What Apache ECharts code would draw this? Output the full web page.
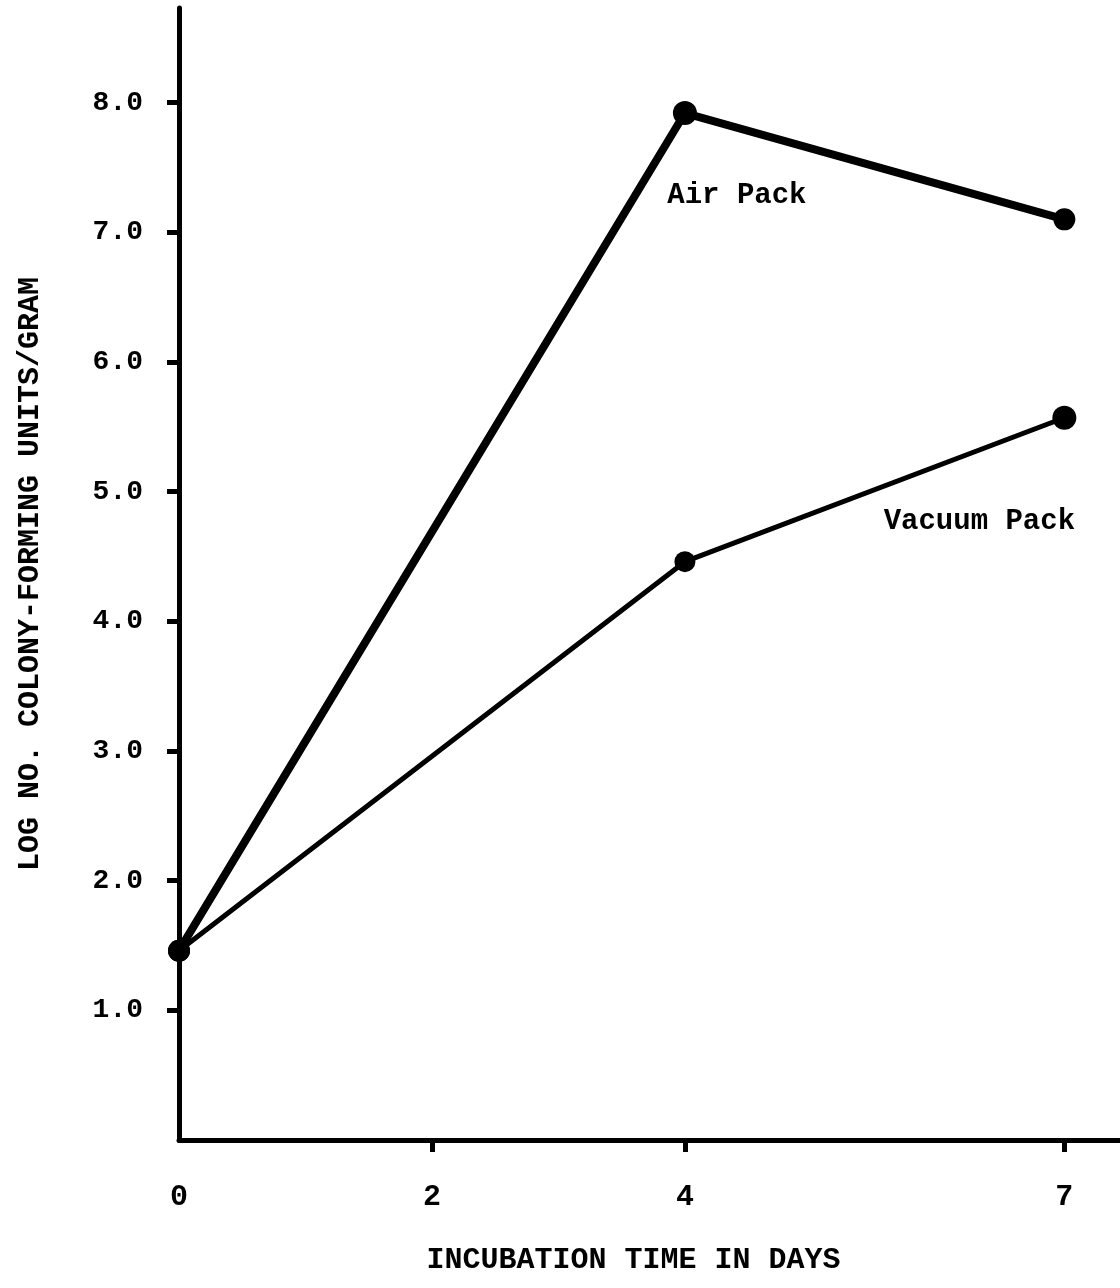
<!DOCTYPE html>
<html>
<head>
<meta charset="utf-8">
<script src="https://cdn.jsdelivr.net/npm/echarts@6/dist/echarts.min.js"></script>
<style>
  html, body { margin: 0; padding: 0; background: #fff; }
  #chart { width: 1120px; height: 1288px; }
</style>
</head>
<body>
<div id="chart"></div>
<script>
const days = [0, 4, 7];
const airPack = [1.46, 7.92, 7.1];
const vacuumPack = [1.46, 4.46, 5.57];
const airSizes = [22, 24, 22];
const vacuumSizes = [22, 21, 24];
const xTicks = [0, 2, 4, 7];
const yTicks = [1, 2, 3, 4, 5, 6, 7, 8];

const font = "Liberation Mono";

function toPoints(values, sizes) {
    let pts = [];
    for (let i = 0; i < days.length; i++) {
        pts.push({ value: [days[i], values[i]], symbolSize: sizes[i] });
    }
    return pts;
}

let airData = toPoints(airPack, airSizes);
airData[1].label = {
    show: true,
    formatter: "Air Pack",
    position: "inside",
    offset: [52, 83],
};

let vacuumData = toPoints(vacuumPack, vacuumSizes);
vacuumData[2].label = {
    show: true,
    formatter: "Vacuum Pack",
    position: "inside",
    offset: [-85, 104],
};

const seriesLabel = {
    show: false,
    color: "#000",
    fontFamily: font,
    fontWeight: "bold",
    fontSize: 29,
};

let myChart = echarts.init(document.getElementById("chart"));

let option = {
    animation: false,
    backgroundColor: "#fff",
    grid: { left: 179, right: 0, top: 8, bottom: 148, outerBoundsMode: "none" },
    xAxis: {
        type: "value",
        min: 0,
        max: 7.44,
        name: "INCUBATION TIME IN DAYS",
        nameLocation: "middle",
        nameGap: 105,
        nameTextStyle: {
            color: "#000",
            fontFamily: font,
            fontWeight: "bold",
            fontSize: 30,
            padding: [0, 32, 0, 0],
        },
        axisLine: { show: true, lineStyle: { color: "#000", width: 5 } },
        axisTick: {
            show: true,
            length: 12,
            customValues: [2, 4, 7],
            lineStyle: { color: "#000", width: 5 },
        },
        axisLabel: {
            customValues: xTicks,
            margin: 42,
            color: "#000",
            fontFamily: font,
            fontWeight: "bold",
            fontSize: 30,
        },
        splitLine: { show: false },
    },
    yAxis: {
        type: "value",
        min: 0,
        max: 8.73,
        name: "LOG NO. COLONY-FORMING UNITS/GRAM",
        nameLocation: "middle",
        nameGap: 134,
        nameRotate: 90,
        nameTextStyle: {
            color: "#000",
            fontFamily: font,
            fontWeight: "bold",
            fontSize: 30,
        },
        axisLine: { show: true, lineStyle: { color: "#000", width: 5 } },
        axisTick: {
            show: true,
            length: 12,
            customValues: yTicks,
            lineStyle: { color: "#000", width: 5 },
        },
        axisLabel: {
            customValues: yTicks,
            formatter: (v) => v.toFixed(1),
            margin: 36,
            color: "#000",
            fontFamily: font,
            fontWeight: "bold",
            fontSize: 28,
        },
        splitLine: { show: false },
    },
    series: [
        {
            name: "Air Pack",
            type: "line",
            data: airData,
            symbol: "circle",
            lineStyle: { color: "#000", width: 8 },
            itemStyle: { color: "#000" },
            label: seriesLabel,
            z: 3,
        },
        {
            name: "Vacuum Pack",
            type: "line",
            data: vacuumData,
            symbol: "circle",
            lineStyle: { color: "#000", width: 5 },
            itemStyle: { color: "#000" },
            label: seriesLabel,
            z: 2,
        },
    ],
};

option && myChart.setOption(option);
</script>
</body>
</html>
